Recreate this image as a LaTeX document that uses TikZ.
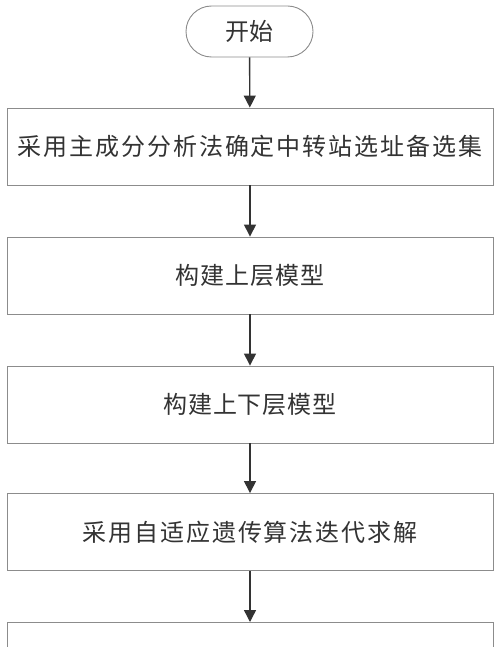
\documentclass[tikz,border=0pt]{standalone}
\usepackage{fontspec}
\newfontfamily\cjk{Noto Sans CJK SC}
\usetikzlibrary{shapes.misc,arrows.meta}
\definecolor{boxline}{HTML}{8C8C8C}
\definecolor{ink}{HTML}{333333}
\tikzset{
  stepbox/.style={draw=boxline, line width=0.9pt, fill=white, minimum width=486pt, minimum height=77pt, inner sep=0pt, text=ink, font=\cjk\fontsize{24}{28}\selectfont},
  startbox/.style={draw=boxline, line width=0.9pt, rounded rectangle, minimum width=127pt, minimum height=51pt, inner sep=0pt, text=ink, font=\cjk\fontsize{24}{28}\selectfont},
  flow/.style={draw=ink, line width=1.4pt, -{Triangle[width=12pt,length=12pt]}}
}
\begin{document}
\begin{tikzpicture}[x=1pt,y=1pt]
\useasboundingbox (0,0) rectangle (500,-647);
\clip (0,0) rectangle (500,-647);
\fill[white] (0,0) rectangle (500,-647);
\node[startbox] (start) at (249.5,-31.5) {开始};
\node[stepbox] (b1) at (250,-146.5) {\addfontfeature{LetterSpace=8}采用主成分分析法确定中转站选址备选集};
\node[stepbox] (b2) at (250,-275.5) {\addfontfeature{LetterSpace=4}构建上层模型};
\node[stepbox] (b3) at (250,-404.5) {\addfontfeature{LetterSpace=4}构建上下层模型};
\node[stepbox] (b4) at (250,-532) {\addfontfeature{LetterSpace=8}采用自适应遗传算法迭代求解};
\node[stepbox, anchor=north] (b5) at (250,-622) {};
\draw[flow] (start) -- (b1);
\draw[flow] (b1) -- (b2);
\draw[flow] (b2) -- (b3);
\draw[flow] (b3) -- (b4);
\draw[flow] (b4) -- (b5);
\end{tikzpicture}
\end{document}
